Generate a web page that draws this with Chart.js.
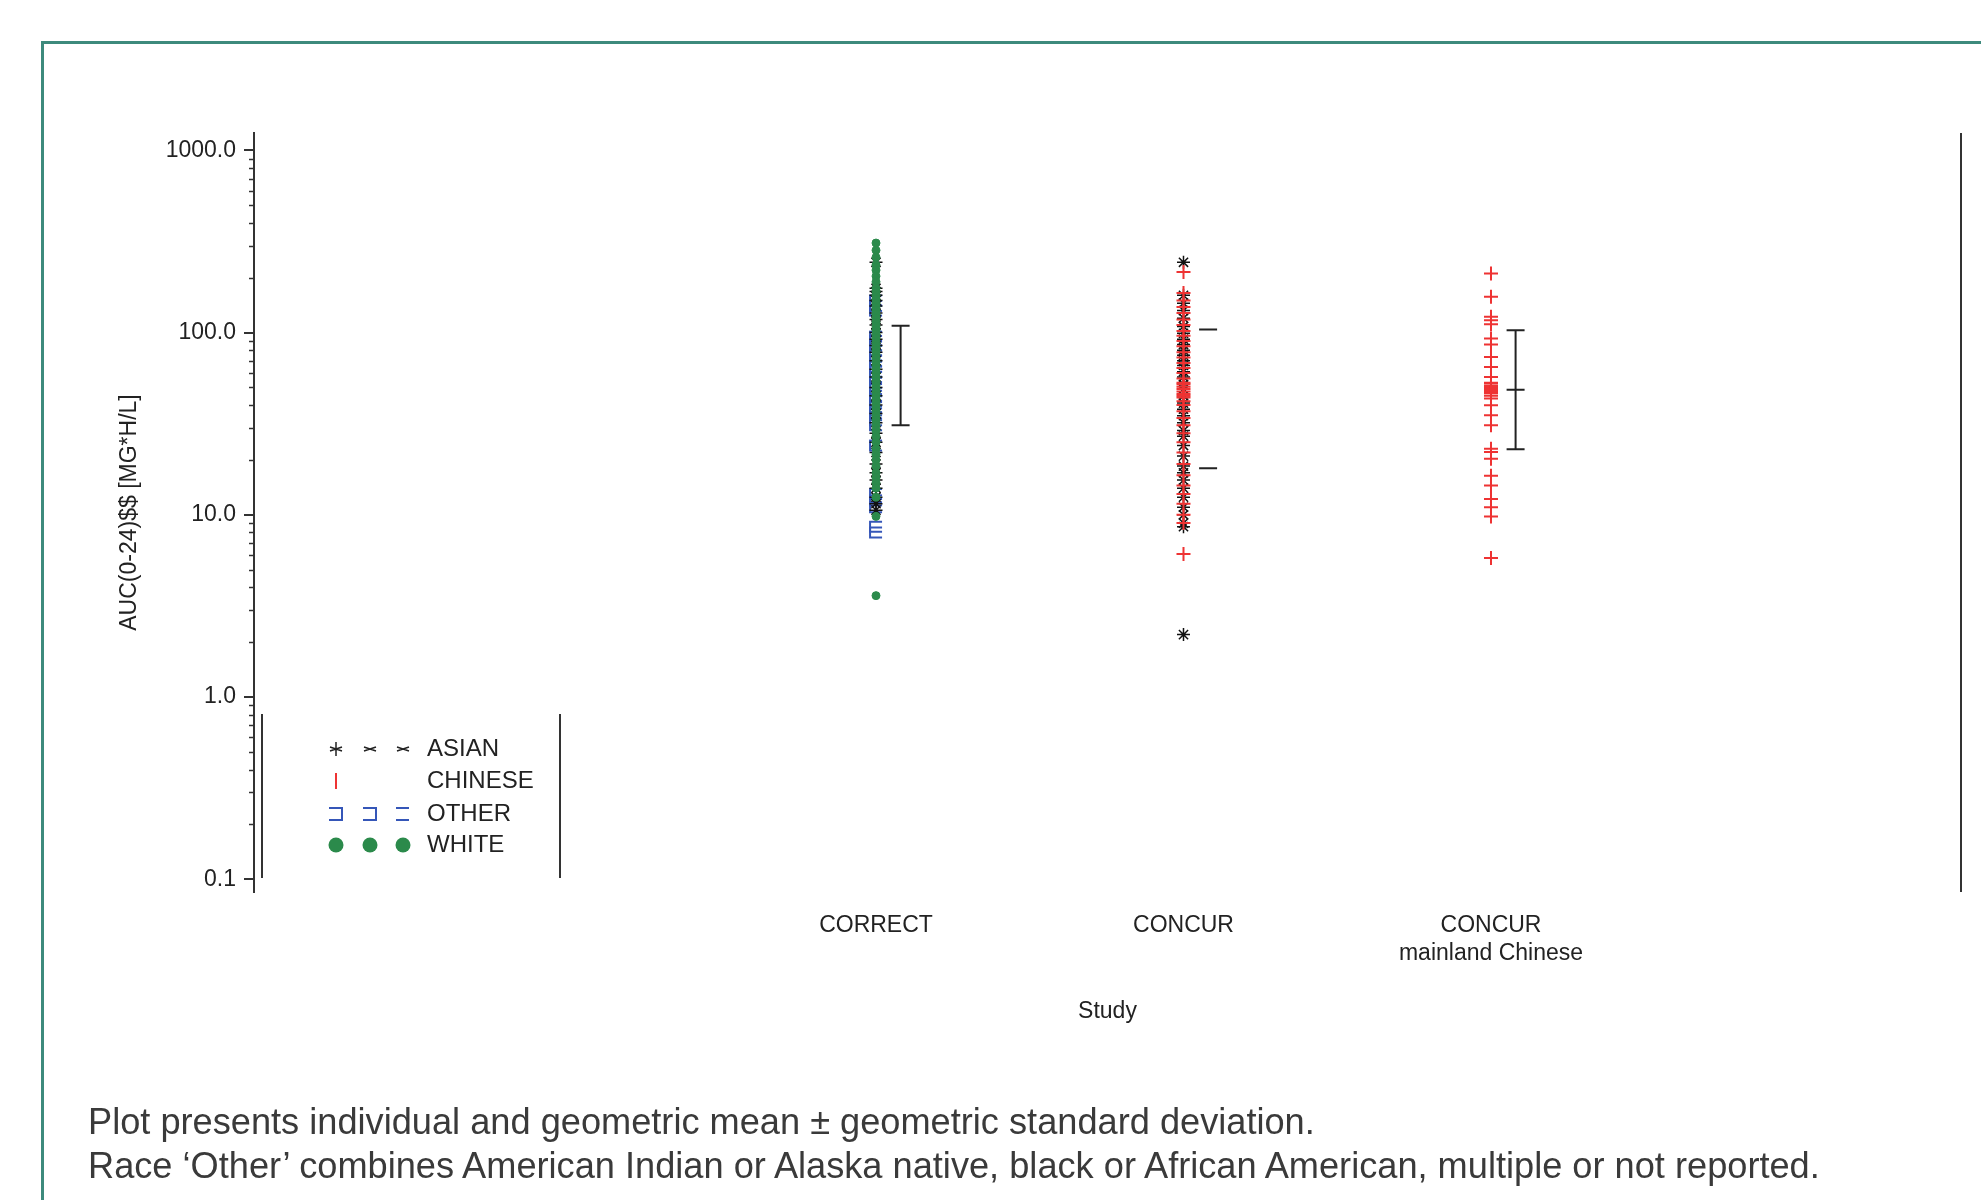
<!DOCTYPE html>
<html>
<head>
<meta charset="utf-8">
<script src="https://cdn.jsdelivr.net/npm/chart.js@4.4.1/dist/chart.umd.min.js"></script>
<style>
	html, body { margin: 0; padding: 0; background: #fff; overflow: hidden; }
	#wrap { position: relative; width: 1981px; height: 1200px; }
	#grafico { position: absolute; left: 0; top: 0; }
	#moldura { position: absolute; left: 41px; top: 41px; width: 2100px; height: 1300px; border: 3px solid #3d8a7c; box-sizing: border-box; }
	#nota { position: absolute; left: 88px; top: 1100px; font-family: "Liberation Sans", Arial, sans-serif; font-size: 36.2px; line-height: 44px; color: #3a3a3a; white-space: nowrap; }
</style>
</head>
<body>
<div id="wrap">
	<canvas id="grafico" width="1981" height="1200"></canvas>
	<div id="moldura"></div>
	<div id="nota">Plot presents individual and geometric mean ± geometric standard deviation.<br>Race ‘Other’ combines American Indian or Alaska native, black or African American, multiple or not reported.</div>
</div>
<script>
// Categorias (estudos) e eixo
const estudos = ['CORRECT', 'CONCUR', ['CONCUR', 'mainland Chinese']];
const yTicks = [0.1, 1, 10, 100, 1000];

// Valores individuais
const whiteCorrect = [310, 283, 259, 235, 220, 204, 190, 175, 168, 160, 152, 145, 138, 132, 126, 120, 114, 108, 103, 98, 93, 88, 84, 80, 76, 72, 69, 66, 63, 60, 57, 54, 51, 49, 47, 45, 43, 41, 39, 37, 35, 33, 31, 29, 27, 25, 23, 21.5, 20, 18.5, 17, 16, 15, 14, 12.5, 9.8, 3.6];
const asianCorrect = [243, 175, 168, 160, 150, 140, 128, 118, 110, 100, 92, 85, 78, 70, 63, 57, 50, 45, 40, 36, 32, 28, 25, 22, 19, 17, 15.5, 14, 12.5, 11.5, 10.6];
const otherCorrect = [150, 140, 132, 95, 90, 85, 80, 75, 70, 65, 61, 57, 53, 49, 45, 42, 39, 36, 33, 31, 24, 13, 12, 11, 8.6, 8];
const asianConcur = [243, 160, 145, 132, 120, 108, 99, 92, 86, 80, 75, 70, 66, 61, 57, 52, 49, 45, 41, 38, 35, 32, 29, 27, 24, 21, 18.5, 17, 15.5, 14, 12.5, 11, 10, 9, 8.6, 2.2];
const chineseConcur = [215, 165, 150, 138, 128, 118, 110, 102, 96, 90, 84, 78, 73, 68, 64, 60, 56, 53, 52, 50.5, 49, 47.5, 46, 45, 44, 42, 40, 37, 34, 31, 28, 25, 22, 19, 16.5, 14.5, 13, 11.5, 10, 9, 6.1];
const chineseMainland = [211, 157, 122, 117, 111, 92.7, 86, 73.4, 64.7, 57, 53, 52.5, 51, 50.2, 49.5, 48.6, 48, 47.2, 46.5, 45, 43.4, 39.9, 35.2, 31, 23, 22.1, 20.3, 16.4, 14.5, 12.2, 11, 9.8, 5.8];

// Media geometrica +- desvio padrao geometrico
const gmLow = [31, 18, 22.9];
const gmMean = [58, 43.3, 48.6];
const gmHigh = [109, 104, 103];
const barStem = [true, false, true];
const barMean = [false, false, true];

function pontos(cat, valores) {
	return valores.map(v => ({ x: cat, y: v }));
}

// Simbolo "[" para OTHER
const colchete = document.createElement('canvas');
colchete.width = 16;
colchete.height = 14;
let cc = colchete.getContext('2d');
cc.strokeStyle = '#3556b8';
cc.lineWidth = 2;
cc.beginPath();
cc.moveTo(14, 2); cc.lineTo(2, 2); cc.lineTo(2, 12); cc.lineTo(14, 12);
cc.stroke();

Chart.defaults.font.family = "'Liberation Sans', Arial, sans-serif";
Chart.defaults.font.size = 23;
Chart.defaults.color = '#222';

// Desenhos extras: linha direita, ticks menores, barras de erro, legenda
const extras = {
	id: 'extras',
	afterDatasetsDraw(chart) {
		const ctx = chart.ctx;
		const area = chart.chartArea;
		const x = chart.scales.x;
		const y = chart.scales.y;
		ctx.save();
		ctx.strokeStyle = '#333';
		ctx.lineWidth = 2;
		ctx.beginPath();
		ctx.moveTo(area.right, area.top);
		ctx.lineTo(area.right, area.bottom);
		ctx.stroke();

		// ticks menores do eixo log
		ctx.lineWidth = 1.5;
		for (let d = 0.1; d < 999; d *= 10) {
			for (let k = 2; k <= 9; k++) {
				const py = Math.round(y.getPixelForValue(k * d)) + 0.5;
				ctx.beginPath();
				ctx.moveTo(area.left - 5, py);
				ctx.lineTo(area.left, py);
				ctx.stroke();
			}
		}

		// barras de erro
		ctx.strokeStyle = '#222';
		ctx.lineWidth = 2;
		for (let i = 0; i < estudos.length; i++) {
			const px = x.getPixelForValue(i + 1.08);
			const top = y.getPixelForValue(gmHigh[i]);
			const bot = y.getPixelForValue(gmLow[i]);
			const mid = y.getPixelForValue(gmMean[i]);
			ctx.beginPath();
			ctx.moveTo(px - 9, top); ctx.lineTo(px + 9, top);
			ctx.moveTo(px - 9, bot); ctx.lineTo(px + 9, bot);
			if (barStem[i]) { ctx.moveTo(px, top); ctx.lineTo(px, bot); }
			if (barMean[i]) { ctx.moveTo(px - 9, mid); ctx.lineTo(px + 9, mid); }
			ctx.stroke();
		}

		// legenda
		ctx.strokeStyle = '#333';
		ctx.lineWidth = 2;
		ctx.beginPath();
		ctx.moveTo(262, 714); ctx.lineTo(262, 878);
		ctx.moveTo(560, 714); ctx.lineTo(560, 878);
		ctx.stroke();

		const linhas = [749, 781, 814, 845];
		const colunas = [336, 370, 403];
		ctx.font = "24px 'Liberation Sans', Arial, sans-serif";
		ctx.textBaseline = 'middle';
		ctx.textAlign = 'left';
		chart.data.datasets.forEach((ds, i) => {
			const ly = linhas[i];
			ctx.fillStyle = '#222';
			ctx.fillText(ds.label, 427, ly);
			colunas.forEach((lx, j) => {
				ctx.beginPath();
				if (ds.label === 'ASIAN') {
					ctx.strokeStyle = '#222';
					ctx.lineWidth = 1.5;
					if (j === 0) { ctx.moveTo(lx, ly - 7); ctx.lineTo(lx, ly + 7); }
					ctx.moveTo(lx - 6, ly - 2); ctx.lineTo(lx + 6, ly + 2);
					ctx.moveTo(lx - 6, ly + 2); ctx.lineTo(lx + 6, ly - 2);
					ctx.stroke();
				} else if (ds.label === 'CHINESE') {
					if (j === 0) {
						ctx.strokeStyle = '#ee3333';
						ctx.lineWidth = 2;
						ctx.moveTo(lx, ly - 8); ctx.lineTo(lx, ly + 8);
						ctx.stroke();
					}
				} else if (ds.label === 'OTHER') {
					ctx.strokeStyle = '#3556b8';
					ctx.lineWidth = 2;
					ctx.moveTo(lx - 7, ly - 6); ctx.lineTo(lx + 6, ly - 6);
					if (j < 2) ctx.lineTo(lx + 6, ly + 6); else ctx.moveTo(lx + 6, ly + 6);
					ctx.lineTo(lx - 7, ly + 6);
					ctx.stroke();
				} else {
					ctx.fillStyle = '#2b8a4b';
					ctx.arc(lx, ly, 7.5, 0, Math.PI * 2);
					ctx.fill();
				}
			});
		});
		ctx.restore();
	}
};

let graficoAUC = new Chart(document.getElementById('grafico').getContext('2d'), {
	type: 'scatter',
	data: {
		datasets: [
			{
				label: 'ASIAN',
				data: pontos(1, asianCorrect).concat(pontos(2, asianConcur)),
				pointStyle: 'star',
				radius: 6.5,
				borderColor: '#111',
				backgroundColor: '#111',
				borderWidth: 1.5,
				order: 2
			},
			{
				label: 'CHINESE',
				data: pontos(2, chineseConcur).concat(pontos(3, chineseMainland)),
				pointStyle: 'cross',
				radius: 7,
				borderColor: '#ee3333',
				backgroundColor: '#ee3333',
				borderWidth: 2,
				order: 0
			},
			{
				label: 'OTHER',
				data: pontos(1, otherCorrect),
				pointStyle: colchete,
				order: 3
			},
			{
				label: 'WHITE',
				data: pontos(1, whiteCorrect),
				pointStyle: 'circle',
				radius: 4,
				borderColor: '#2b8a4b',
				backgroundColor: '#2b8a4b',
				borderWidth: 1,
				order: 1
			}
		]
	},
	options: {
		responsive: false,
		animation: false,
		events: [],
		layout: { padding: { left: 0, top: 133, right: 20, bottom: 175 } },
		plugins: { legend: { display: false }, tooltip: { enabled: false } },
		scales: {
			x: {
				type: 'linear',
				min: -1.0228,
				max: 4.5285,
				afterBuildTicks: s => { s.ticks = estudos.map((e, i) => ({ value: i + 1 })); },
				afterFit: s => { s.height = 133; },
				grid: { display: false, drawTicks: false },
				border: { display: false },
				ticks: { autoSkip: false, maxRotation: 0, padding: 20, color: '#222', callback: v => estudos[v - 1] },
				title: { display: true, text: 'Study', color: '#222', padding: 0 }
			},
			y: {
				type: 'logarithmic',
				min: 0.0851,
				max: 1245,
				afterBuildTicks: s => { s.ticks = yTicks.map(v => ({ value: v })); },
				afterFit: s => { s.width = 254; },
				grid: { drawOnChartArea: false, drawTicks: true, tickLength: 10, color: '#333', lineWidth: 2 },
				border: { display: true, color: '#333', width: 2 },
				ticks: { padding: 8, color: '#222', callback: v => Number(v).toFixed(1) },
				title: { display: true, text: 'AUC(0-24)$$ [MG*H/L]', color: '#222', padding: { top: 116, bottom: 0 } }
			}
		}
	},
	plugins: [extras]
});
</script>
</body>
</html>
